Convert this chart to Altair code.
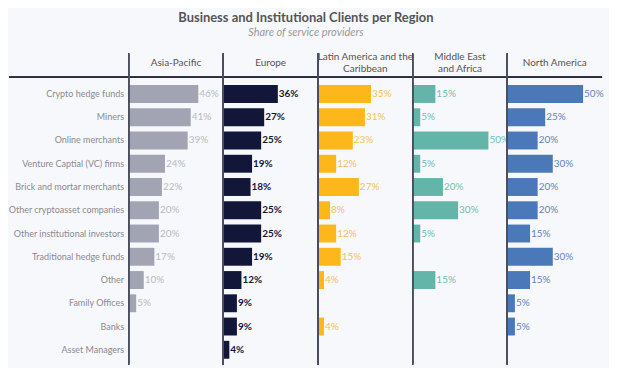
import altair as alt
import pandas as pd

categories = [
    "Crypto hedge funds", "Miners", "Online merchants", "Venture Captial (VC) firms",
    "Brick and mortar merchants", "Other cryptoasset companies", "Other institutional investors",
    "Traditional hedge funds", "Other", "Family Offices", "Banks", "Asset Managers",
]
regions = ["Asia-Pacific", "Europe", "Latin America and the Caribbean", "Middle East and Africa", "North America"]
region_titles = [["Asia-Pacific"], ["Europe"], ["Latin America and the", "Caribbean"], ["Middle East", "and Africa"], ["North America"]]

asia_pacific = [46, 41, 39, 24, 22, 20, 20, 17, 10, 5, None, None]
europe = [36, 27, 25, 19, 18, 25, 25, 19, 12, 9, 9, 4]
latin_america = [35, 31, 23, 12, 27, 8, 12, 15, 4, None, 4, None]
middle_east_africa = [15, 5, 50, 5, 20, 30, 5, None, 15, None, None, None]
north_america = [50, 25, 20, 30, 20, 20, 15, 30, 15, 5, 5, None]
series = [asia_pacific, europe, latin_america, middle_east_africa, north_america]

bar_colors = ["#a3a4b3", "#12173a", "#fdb71a", "#63b5aa", "#4a78b8"]
label_colors = ["#b9bac6", "#12173a", "#f5c350", "#74bdb3", "#5f83bd"]
label_weights = ["normal", "bold", "normal", "normal", "normal"]

BG = "#f7f8fb"
LINE = "#4a4e5e"
W, H = 95, 280

panels = []
for i, (reg, vals) in enumerate(zip(regions, series)):
    df = pd.DataFrame({"category": categories, "value": vals})
    df = df.dropna()
    df["label"] = df["value"].map(lambda v: f"{int(v)}%")
    yenc = alt.Y(
        "category:N", sort=categories, scale=alt.Scale(domain=categories, paddingInner=0.23, paddingOuter=0.115),
        axis=(alt.Axis(title=None, ticks=False, domain=False, labelPadding=5, labelFontSize=9.0,
                       labelColor="#8a8a90", labelFont="Lato", labelLimit=200) if i == 0 else None),
    )
    xenc = alt.X("value:Q", scale=alt.Scale(domain=[0, 62.5]), axis=None)
    base = alt.Chart(df)
    bars = base.mark_bar(color=bar_colors[i]).encode(x=xenc, y=yenc)
    text = base.mark_text(align="left", baseline="middle", dx=1, fontSize=10, font="Lato",
                          color=label_colors[i], fontWeight=label_weights[i]).encode(
        x=xenc, y=yenc, text="label:N")
    vrule = alt.Chart(df).mark_rule(color=LINE, strokeWidth=1.2).encode(
        x=alt.value(0), y=alt.value(-29), y2=alt.value(H + 3))
    hrule = alt.Chart(df).mark_rule(color="#2a2e3e", strokeWidth=1.2).encode(
        x=alt.value(-120 if i == 0 else 0), x2=alt.value(W), y=alt.value(-5))
    two_line = len(region_titles[i]) > 1
    layer = alt.layer(bars, text, hrule, vrule).properties(
        width=W, height=H,
        title=alt.TitleParams(text=region_titles[i], baseline="middle", offset=(-26 if two_line else -20),
                              fontSize=10, fontWeight="normal", color="#555555", font="Lato",
                              anchor="middle", lineHeight=12),
    )
    panels.append(layer)

chart = alt.hconcat(*panels, spacing=0, bounds="flush").properties(
    title=alt.TitleParams(
        text="Business and Institutional Clients per Region",
        subtitle="Share of service providers",
        fontSize=13, font="Lato", fontWeight="bold", color="#555555",
        subtitleFont="Lato", subtitleFontSize=11, subtitleFontStyle="italic", subtitleColor="#9a9a9a",
        anchor="middle", offset=14, subtitlePadding=2,
    ),
    background=BG,
    padding={"left": 0, "right": 5, "top": 3, "bottom": 2},
).configure_view(stroke=None).configure_concat(spacing=0)

chart.save("out.html", embed_options={"renderer": "svg", "actions": False})
